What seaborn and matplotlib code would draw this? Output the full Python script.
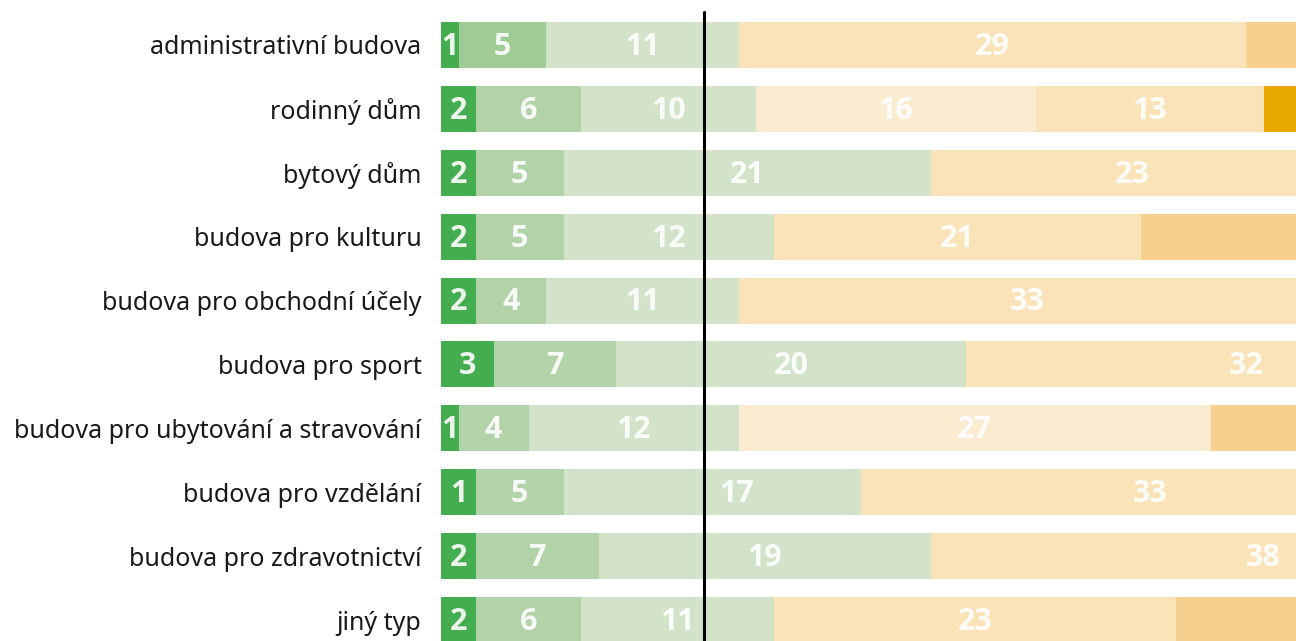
import numpy as np
import pandas as pd
import seaborn as sns
import matplotlib.pyplot as plt

# typy budov (shora dolu)
types = ['administrativní budova', 'rodinný dům', 'bytový dům', 'budova pro kulturu',
         'budova pro obchodní účely', 'budova pro sport',
         'budova pro ubytování a stravování', 'budova pro vzdělání',
         'budova pro zdravotnictví', 'jiný typ']

# podily trid A-G (v %), konec grafu je oriznuty
a_vals = [1, 2, 2, 2, 2, 3, 1, 2, 2, 2]
a_shown = [1, 2, 2, 2, 2, 3, 1, 1, 2, 2]
b_vals = [5, 6, 5, 5, 4, 7, 4, 5, 7, 6]
c_vals = [11, 10, 21, 12, 11, 20, 12, 17, 19, 11]
d_vals = [0, 16, 0, 0, 0, 0, 27, 0, 0, 0]
e_vals = [29, 13, 23, 21, 33, 32, 0, 33, 38, 23]
f_vals = [54, 0, 49, 60, 50, 38, 56, 43, 34, 58]
g_vals = [0, 53, 0, 0, 0, 0, 0, 0, 0, 0]

cols = ['A', 'B', 'C', 'D', 'E', 'F', 'G']
colors = {'A': '#44ad4f', 'B': '#b2d2a7', 'C': '#d3e3ca', 'D': '#fbebd0',
          'E': '#fae3b8', 'F': '#f5d08e', 'G': '#e8a800'}

df = pd.DataFrame({'typ': types, 'A': a_vals, 'B': b_vals, 'C': c_vals, 'D': d_vals,
                   'E': e_vals, 'F': f_vals, 'G': g_vals})
cum = df[cols].cumsum(axis=1)
cum['typ'] = df['typ']

sns.set_style('white')
plt.rcParams['font.family'] = ['Noto Sans', 'DejaVu Sans']

fig = plt.figure(figsize=(12.96, 6.41), dpi=100)
ax = fig.add_axes([441 / 1296, 0, 1 - 441 / 1296, 1])
xmax = (1296 - 441) / 17.5
mark = 15  # svisla cara

# stacked bars: nejdelsi vrstva dole, kratsi pres ni
for c in cols[::-1]:
    sns.barplot(data=cum, x=c, y='typ', order=types, color=colors[c], saturation=1,
                width=0.72, errorbar=None, orient='h', linewidth=0, ax=ax)

# prvni radek ma tmavsi tridu B
ax.containers[5].patches[0].set_facecolor('#a0cb95')

ax.axvline(mark, ymin=0, ymax=1 - 12 / 641, color='black', lw=2.2, zorder=3)

for i in range(len(types)):
    for c in cols:
        v = df.loc[i, c]
        xc = cum.loc[i, c] - v / 2
        if v <= 0 or xc > xmax - 1:
            continue
        if abs(xc - mark) < 1.5:  # popisek nesmi lezet na care
            xc = mark + 1.9
        txt = a_shown[i] if c == 'A' else v
        ax.text(xc, i + 0.03, str(txt), ha='center', va='center',
                color='white', alpha=0.9, fontsize=22, fontweight='bold',
                family=['Open Sans', 'DejaVu Sans'], zorder=4)

ax.set_xlim(0, xmax)
ax.set_ylim(9 + 21 / 63.9, -45 / 63.9)
ax.set_xlabel('')
ax.set_ylabel('')
ax.set_xticks([])
ax.tick_params(axis='y', length=0, pad=14, labelsize=18, labelcolor='#1a1a1a')
sns.despine(ax=ax, left=True, bottom=True)

fig.savefig('out.png', dpi=100)
